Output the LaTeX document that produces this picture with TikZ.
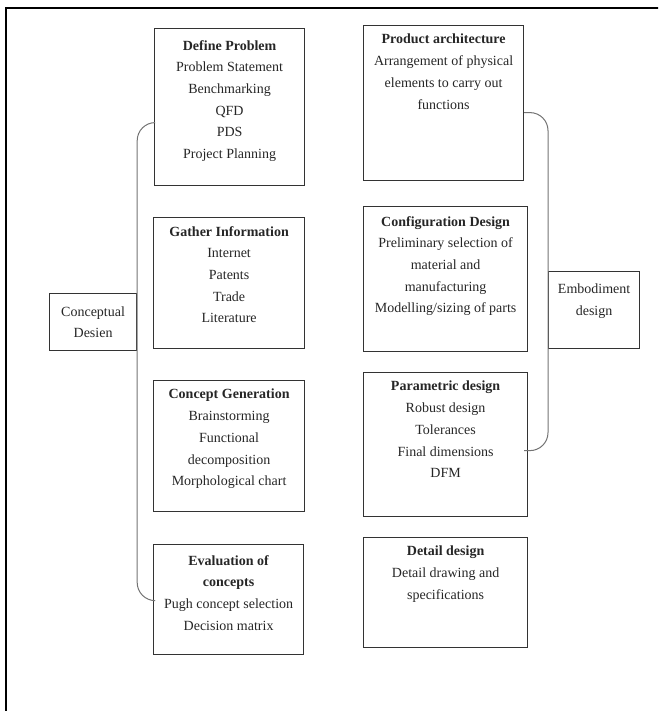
\documentclass[tikz,border=0pt]{standalone}
\usepackage{fontspec}
\setmainfont{Liberation Serif}
\begin{document}
\begin{tikzpicture}[x=1pt,y=-1pt,
  stagebox/.style={draw=black!80,line width=1.2pt,inner sep=0pt,anchor=north west},
  boxtext/.style={anchor=north,inner sep=0pt,align=center,text=black!85,
    font=\fontsize{14}{21.7}\selectfont},
  bracket/.style={draw=black!55,line width=1pt,rounded corners=18pt}]
\useasboundingbox (0,0) rectangle (658,711);
\clip (0,0) rectangle (658,711);
% outer frame
\draw[line width=2pt] (6,8) rectangle (720,760);
% left column
\node[stagebox,minimum width=150pt,minimum height=157pt] (dp) at (154,28) {};
\node[boxtext] (dpt) at ([yshift=-12pt]dp.north) {\textbf{Define Problem}\\Problem Statement\\Benchmarking\\QFD\\PDS\\Project Planning};
\node[stagebox,minimum width=151pt,minimum height=131pt] (gi) at (153,217) {};
\node[boxtext] (git) at ([yshift=-9pt]gi.north) {\textbf{Gather Information}\\Internet\\Patents\\Trade\\Literature};
\node[stagebox,minimum width=151pt,minimum height=131pt] (cg) at (153,380) {};
\node[boxtext] (cgt) at ([yshift=-9pt]cg.north) {\textbf{Concept Generation}\\Brainstorming\\Functional\\decomposition\\Morphological chart};
\node[stagebox,minimum width=150pt,minimum height=110pt] (ev) at (153,544) {};
\node[boxtext] (evt) at ([yshift=-11pt]ev.north) {\textbf{Evaluation of}\\\textbf{concepts}\\Pugh concept selection\\Decision matrix};
\node[stagebox,minimum width=87pt,minimum height=57pt] (cd) at (49,293) {};
\node[boxtext,anchor=center] (cdt) at (cd.center) {Conceptual\\Desien};
% right column
\node[stagebox,minimum width=160pt,minimum height=155pt] (pa) at (363,25) {};
\node[boxtext] (pat) at ([yshift=-9pt]pa.north) {\textbf{Product architecture}\\Arrangement of physical\\elements to carry out\\functions};
\node[stagebox,minimum width=164pt,minimum height=145pt] (cf) at (363,206) {};
\node[boxtext] (cft) at ([yshift=-10pt]cf.north) {\textbf{Configuration Design}\\Preliminary selection of\\material and\\manufacturing\\Modelling/sizing of parts};
\node[stagebox,minimum width=164pt,minimum height=144pt] (pd) at (363,372) {};
\node[boxtext] (pdt) at ([yshift=-9pt]pd.north) {\textbf{Parametric design}\\Robust design\\Tolerances\\Final dimensions\\DFM};
\node[stagebox,minimum width=164pt,minimum height=110pt] (dd) at (363,537) {};
\node[boxtext] (ddt) at ([yshift=-9pt]dd.north) {\textbf{Detail design}\\Detail drawing and\\specifications};
\node[stagebox,minimum width=91pt,minimum height=77pt] (em) at (548,271) {};
\node[boxtext] (emt) at ([yshift=-13pt]em.north) {Embodiment\\design};
% brackets
\coordinate (l1) at ([yshift=-15.5pt]dp.west);
\coordinate (l2) at ([yshift=-1pt]ev.west);
\draw[bracket] (l1) -- (l1 -| cd.east) -- (l2 -| cd.east) -- (l2);
\coordinate (r1) at ([yshift=-9.5pt]pa.east);
\coordinate (r2) at ([yshift=-6pt,xshift=-4pt]pd.east);
\draw[bracket] (r1) -- (r1 -| em.west) -- (r2 -| em.west) -- (r2);
\end{tikzpicture}
\end{document}
